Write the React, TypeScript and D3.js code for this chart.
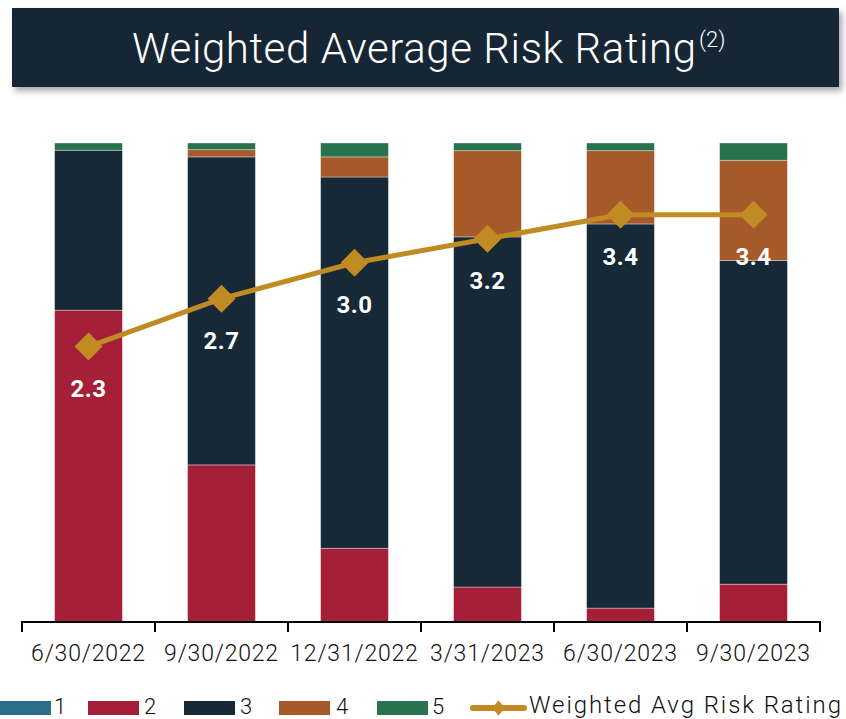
import React from "react";
import * as d3 from "d3";

const categories = ["6/30/2022", "9/30/2022", "12/31/2022", "3/31/2023", "6/30/2023", "9/30/2023"];
const rating1 = [0, 0, 0, 0, 0, 0];
const rating2 = [65.1, 32.8, 15.4, 7.3, 2.9, 7.9];
const rating3 = [33.4, 64.3, 77.5, 73.1, 80.2, 67.6];
const rating4 = [0, 1.5, 4.2, 18.0, 15.3, 20.9];
const rating5 = [1.5, 1.4, 2.9, 1.6, 1.6, 3.6];
const weightedAvg = [2.3, 2.7, 3.0, 3.2, 3.4, 3.4];
const seriesNames = ["1", "2", "3", "4", "5"];
const colors = ["#2B6F8C", "#A51F38", "#172836", "#A65A2A", "#27734D"];
const lineColor = "#C08B22";
const lineName = "Weighted Avg Risk Rating";
const titleText = "Weighted Average Risk Rating";
const titleNote = "(2)";

const W = 846, H = 719;
const FONT = "Roboto, 'Open Sans', sans-serif";

export default function App() {
  const x = d3.scaleBand().domain(categories).range([22, 820]).paddingInner(0).paddingOuter(0);
  const y2 = d3.scaleLinear().domain([0, 4]).range([622, 143]);
  const barW = x.bandwidth() * 0.51;

  const rows = categories.map((c, i) => ({
    cat: c,
    "1": rating1[i], "2": rating2[i], "3": rating3[i], "4": rating4[i], "5": rating5[i],
  }));
  const stacked = d3.stack<any>().keys(seriesNames).offset(d3.stackOffsetExpand)(rows);
  const yp = d3.scaleLinear().domain([0, 1]).range([622, 143]);

  const cx = (c: string) => (x(c) as number) + x.bandwidth() / 2;
  const line = d3.line<number>().x((_, i) => cx(categories[i])).y((v) => y2(v));

  const diamond = (px: number, py: number, r: number) =>
    `M${px},${py - r}L${px + r},${py}L${px},${py + r}L${px - r},${py}Z`;

  const ticks = [...categories.map((c) => x(c) as number), 820];

  const legendItems = [
    { sw: 0, tx: 54 },
    { sw: 88, tx: 144 },
    { sw: 184, tx: 240 },
    { sw: 279, tx: 336 },
    { sw: 377, tx: 432 },
  ];

  return (
    <svg width={W} height={H} style={{ position: "absolute", left: 0, top: 0, background: "#fff" }} fontFamily={FONT}>
      <defs>
        <filter id="sh" x="-5%" y="-20%" width="110%" height="150%">
          <feDropShadow dx="3" dy="4" stdDeviation="3" floodColor="#000" floodOpacity="0.35" />
        </filter>
      </defs>
      <rect x={12} y={8} width={827} height={79} fill="#182836" filter="url(#sh)" />
      <text x={132} y={63} fill="#fff" fontSize={42} fontWeight={300} textLength={564} lengthAdjust="spacing">
        {titleText}
      </text>
      <text x={699} y={47} fill="#fff" fontSize={22} fontWeight={300}>{titleNote}</text>

      {stacked.map((s, si) => (
        <g key={s.key} fill={colors[si]}>
          {s.map((d, i) => {
            const h = yp(d[0]) - yp(d[1]);
            if (h <= 0) return null;
            return (
              <rect key={i} x={cx(categories[i]) - barW / 2} y={yp(d[1])} width={barW} height={h}
                stroke="rgba(255,255,255,0.45)" strokeWidth={0.8} />
            );
          })}
        </g>
      ))}

      <line x1={22} x2={820} y1={622} y2={622} stroke="#000" strokeWidth={2} />
      {ticks.map((t, i) => (
        <line key={i} x1={t} x2={t} y1={621} y2={632} stroke="#000" strokeWidth={2} />
      ))}
      {categories.map((c) => (
        <text key={c} x={cx(c)} y={661} textAnchor="middle" fontSize={23} fontWeight={300} fill="#111" letterSpacing={0.8}>
          {c}
        </text>
      ))}

      <path d={line(weightedAvg) || ""} fill="none" stroke={lineColor} strokeWidth={5} />
      {weightedAvg.map((v, i) => (
        <path key={i} d={diamond(cx(categories[i]), y2(v), 14)} fill={lineColor} />
      ))}
      {weightedAvg.map((v, i) => (
        <text key={"l" + i} x={cx(categories[i])} y={y2(v) + 50} textAnchor="middle" fontSize={24} fontWeight={700} fill="#fff" letterSpacing={0.5}>
          {v.toFixed(1)}
        </text>
      ))}

      {legendItems.map((l, i) => (
        <g key={i}>
          <rect x={l.sw} y={701} width={51} height={14} fill={colors[i]} />
          <text x={l.tx} y={714} fontSize={22} fontWeight={300} fill="#111">{seriesNames[i]}</text>
        </g>
      ))}
      <line x1={473} x2={524} y1={708} y2={708} stroke={lineColor} strokeWidth={6} strokeLinecap="round" />
      <path d={`M498.5,700.5L505,708L498.5,715.5L492,708Z`} fill={lineColor} />
      <text x={529} y={713} fontSize={24} fontWeight={300} fill="#111" textLength={312} lengthAdjust="spacing">{lineName}</text>
    </svg>
  );
}
